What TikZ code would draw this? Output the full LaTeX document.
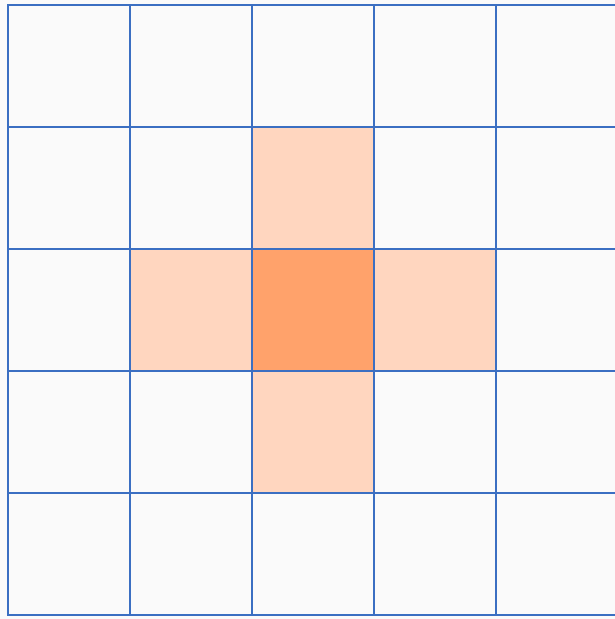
\documentclass[tikz,border=0pt]{standalone}
\definecolor{bg}{HTML}{FAFAFA}
\definecolor{gridblue}{HTML}{3B6FC2}
\definecolor{lightor}{HTML}{FFD6BF}
\definecolor{darkor}{HTML}{FFA26B}
\tikzset{gridline/.style={draw=gridblue,line width=2.4pt,line cap=rect}}
\begin{document}
\begin{tikzpicture}[x=1pt,y=-1pt]
\useasboundingbox (0,0) rectangle (615,619);
\fill[bg] (0,0) rectangle (615,619);
\begin{scope}
\clip (0,0) rectangle (615,619);
\fill[lightor] (252,127) rectangle (374,249);
\fill[lightor] (130,249) rectangle (252,371);
\fill[lightor] (374,249) rectangle (496,371);
\fill[lightor] (252,371) rectangle (374,493);
\fill[darkor] (252,249) rectangle (374,371);
\foreach \i in {0,...,5} {
  \draw[gridline] ({8+122*\i},5) -- ({8+122*\i},615);
  \draw[gridline] (8,{5+122*\i}) -- (618,{5+122*\i});
}
\end{scope}
\end{tikzpicture}
\end{document}
